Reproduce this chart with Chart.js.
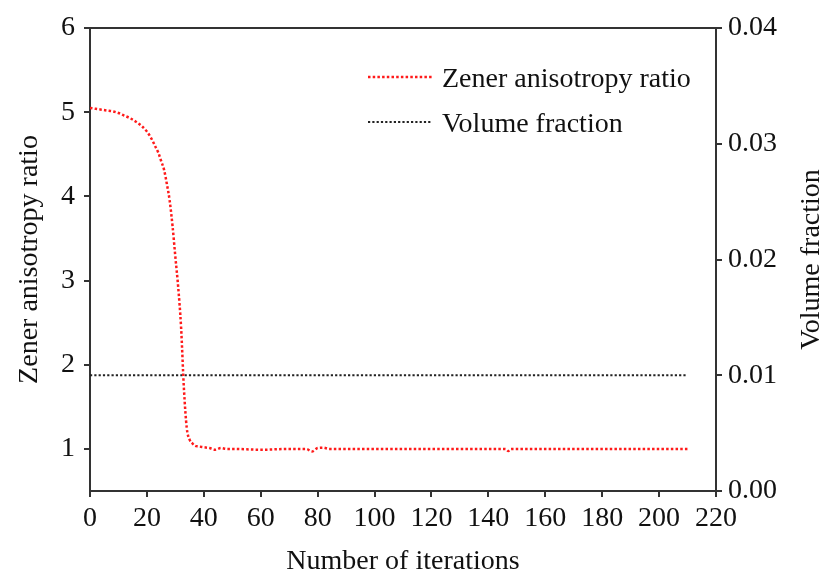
<!DOCTYPE html>
<html>
<head>
<meta charset="utf-8">
<script src="https://cdn.jsdelivr.net/npm/chart.js@4"></script>
<style>
  html, body { margin: 0; padding: 0; background: #fff; }
</style>
</head>
<body>
<canvas id="chart" width="829" height="577"></canvas>
<script>
// data
const iterations = [0, 2, 4, 6, 8, 10, 12, 14, 16, 18, 20, 21, 22, 23, 24, 25, 26, 27, 28, 29, 30, 31, 32, 33, 34, 35, 36, 37, 38, 40, 42, 44, 46, 48, 50, 60, 70, 76, 78, 80, 82, 84, 100, 120, 140, 146, 147, 148, 160, 180, 200, 210];
const zenerRatio = [5.05, 5.04, 5.03, 5.02, 5.01, 4.99, 4.96, 4.93, 4.89, 4.84, 4.77, 4.72, 4.66, 4.59, 4.52, 4.42, 4.32, 4.15, 3.95, 3.65, 3.28, 2.92, 2.45, 1.72, 1.25, 1.11, 1.065, 1.035, 1.03, 1.02, 1.01, 0.99, 1.01, 1.0, 1.0, 0.99, 1.0, 1.0, 0.97, 1.01, 1.015, 1.0, 1.0, 1.0, 1.0, 1.0, 0.975, 1.0, 1.0, 1.0, 1.0, 1.0];
const volumeIters = [0, 210];
const volumeFraction = [0.01, 0.01];

const xTicks = [0, 20, 40, 60, 80, 100, 120, 140, 160, 180, 200, 220];
const leftTicks = [1, 2, 3, 4, 5, 6];
const rightTicks = [0, 0.01, 0.02, 0.03, 0.04];

const FONT = { family: "'Liberation Serif', 'Times New Roman', serif", size: 28 };
const AXIS_COLOR = '#333';
const TEXT_COLOR = '#111';

const toPoints = (xs, ys) => xs.map((x, i) => ({ x: x, y: ys[i] }));
const setTicks = (list) => (scale) => { scale.ticks = list.map(v => ({ value: v })); };

const gridOpts = { drawOnChartArea: false, drawTicks: true, tickLength: 6, color: AXIS_COLOR, lineWidth: 2 };
const borderOpts = { color: AXIS_COLOR, width: 2 };

// legend drawn inside the plot, top right
const innerLegend = {
    id: 'innerLegend',
    afterDraw(chart) {
        const ctx = chart.ctx;
        const rows = [{ ds: 0, lineY: 77, textY: 87 }, { ds: 1, lineY: 122, textY: 132 }];
        ctx.save();
        rows.forEach(r => {
            const ds = chart.data.datasets[r.ds];
            ctx.strokeStyle = ds.borderColor;
            ctx.lineWidth = ds.borderWidth;
            ctx.setLineDash(ds.borderDash);
            ctx.beginPath();
            ctx.moveTo(368, r.lineY);
            ctx.lineTo(432, r.lineY);
            ctx.stroke();
            ctx.setLineDash([]);
            ctx.fillStyle = TEXT_COLOR;
            ctx.font = `${FONT.size}px ${FONT.family}`;
            ctx.textBaseline = 'alphabetic';
            ctx.textAlign = 'left';
            ctx.fillText(ds.label, 442, r.textY);
        });
        ctx.restore();
    }
};

// right axis title reads bottom-to-top like the left one
const rightTitle = {
    id: 'rightTitle',
    afterDraw(chart) {
        const ctx = chart.ctx;
        const area = chart.chartArea;
        ctx.save();
        ctx.translate(812, (area.top + area.bottom) / 2);
        ctx.rotate(-Math.PI / 2);
        ctx.fillStyle = TEXT_COLOR;
        ctx.font = `${FONT.size}px ${FONT.family}`;
        ctx.textAlign = 'center';
        ctx.textBaseline = 'middle';
        ctx.fillText('Volume fraction', 0, 0);
        ctx.restore();
    }
};

const ctx = document.getElementById('chart').getContext('2d');
new Chart(ctx, {
    type: 'line',
    data: {
        datasets: [{
            label: 'Zener anisotropy ratio',
            data: toPoints(iterations, zenerRatio),
            yAxisID: 'y',
            borderColor: '#ff1a1a',
            borderWidth: 2.5,
            borderDash: [2.5, 2.2],
            pointRadius: 0,
            cubicInterpolationMode: 'monotone',
            fill: false,
        }, {
            label: 'Volume fraction',
            data: toPoints(volumeIters, volumeFraction),
            yAxisID: 'y2',
            borderColor: '#222222',
            borderWidth: 2.2,
            borderDash: [2.2, 2.1],
            pointRadius: 0,
            fill: false,
        }],
    },
    options: {
        responsive: false,
        animation: false,
        layout: { padding: { top: 28, left: 0, right: 0, bottom: 0 } },
        plugins: {
            legend: { display: false },
            tooltip: { enabled: false },
        },
        scales: {
            x: {
                type: 'linear',
                position: 'bottom',
                min: 0,
                max: 220,
                afterBuildTicks: setTicks(xTicks),
                afterFit: (s) => { s.height = 86; },
                ticks: { font: FONT, color: TEXT_COLOR, padding: 5, maxRotation: 0 },
                grid: gridOpts,
                border: borderOpts,
                title: { display: true, text: 'Number of iterations', font: FONT, color: TEXT_COLOR, padding: { top: 0, bottom: -1 } },
            },
            xTop: {
                type: 'linear',
                position: 'top',
                min: 0,
                max: 220,
                ticks: { display: false },
                grid: { display: false },
                border: borderOpts,
                afterFit: (s) => { s.height = 0; },
            },
            y: {
                type: 'linear',
                position: 'left',
                min: 0.5,
                max: 6,
                afterBuildTicks: setTicks(leftTicks),
                afterFit: (s) => { s.width = 90; },
                ticks: { font: FONT, color: TEXT_COLOR, padding: 9 },
                grid: gridOpts,
                border: borderOpts,
                title: { display: true, text: 'Zener anisotropy ratio', font: FONT, color: TEXT_COLOR, padding: { top: 13, bottom: 0 } },
            },
            y2: {
                type: 'linear',
                position: 'right',
                min: 0,
                max: 0.04,
                afterBuildTicks: setTicks(rightTicks),
                afterFit: (s) => { s.width = 113; },
                ticks: { font: FONT, color: TEXT_COLOR, padding: 6, callback: (v) => v.toFixed(2) },
                grid: gridOpts,
                border: borderOpts,
            },
        },
    },
    plugins: [innerLegend, rightTitle],
});
</script>
</body>
</html>
